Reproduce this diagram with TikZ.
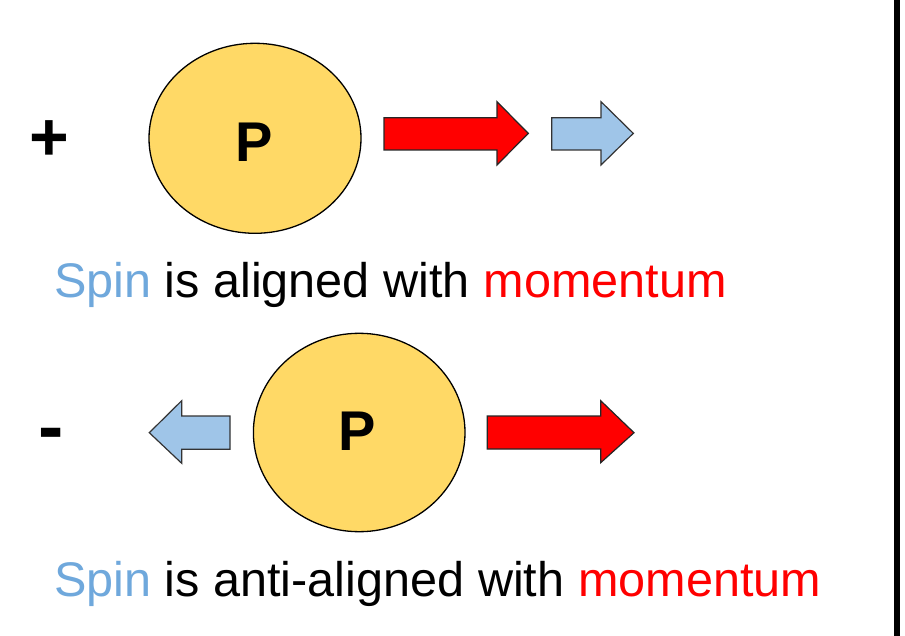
\documentclass[tikz,border=0pt]{standalone}
\usepackage{fontspec}
\setmainfont{Liberation Sans}
\usetikzlibrary{shapes.geometric}

\definecolor{spinblue}{HTML}{6FA8DC}
\definecolor{arrowblue}{HTML}{9FC5E8}
\definecolor{momred}{HTML}{FF0000}
\definecolor{protonfill}{HTML}{FFD966}

\tikzset{
  proton/.style={ellipse, draw=black, line width=1.3pt, fill=protonfill,
                 inner sep=0pt},
  ptext/.style={inner sep=0pt, font=\bfseries\fontsize{56}{60}\selectfont},
  caption/.style={inner sep=0pt, anchor=base west,
                  font=\fontsize{48.6}{58}\selectfont},
  momarrow/.style={draw=black!85, line width=1.2pt, fill=momred,
                   line join=miter},
  spinarrow/.style={draw=black!80, line width=1.2pt, fill=arrowblue,
                    line join=miter},
  signtext/.style={inner sep=0pt}
}

\begin{document}
\begin{tikzpicture}[x=1pt, y=-1pt]
  \useasboundingbox (0,0) rectangle (905,636);
  \fill[white] (0,0) rectangle (905,636);

  % right-hand border
  \fill[black] (893.5,0) rectangle (899.5,636);

  % ---- positive helicity ----
  \node[signtext, font=\bfseries\fontsize{68}{72}\selectfont] (plus) at (49,141) {+};
  \node[proton, minimum width=212pt, minimum height=190pt] (pa) at (255,138.3) {};
  \node[ptext] (pla) at (254,142) {P};

  % momentum (red) and spin (blue), both pointing right
  \draw[momarrow] (384,117.7) -- (497,117.7) -- (497,101.7) -- (528.3,133.4)
        -- (497,165) -- (497,150) -- (384,150) -- cycle;
  \draw[spinarrow] (551.7,117.7) -- (601,117.7) -- (601,101.7) -- (633.3,133.4)
        -- (601,165) -- (601,150) -- (551.7,150) -- cycle;

  \node[caption] (cap1) at (53.8,297.5)
    {\textcolor{spinblue}{Spin} is aligned with \textcolor{momred}{momentum}};

  % ---- negative helicity ----
  \node[signtext, font=\bfseries\fontsize{76}{80}\selectfont] (minus) at (51,440) {-};
  \node[proton, minimum width=211.6pt, minimum height=198.4pt] (pb) at (359.2,432.5) {};
  \node[ptext] (plb) at (357.5,431) {P};

  % spin points left, momentum points right
  \draw[spinarrow] (230,416) -- (181.7,416) -- (181.7,400.7) -- (149.3,432.7)
        -- (181.7,463.3) -- (181.7,449.3) -- (230,449.3) -- cycle;
  \draw[momarrow] (487.3,416) -- (600.7,416) -- (600.7,400.7) -- (634,432.7)
        -- (600.7,462.7) -- (600.7,449) -- (487.3,449) -- cycle;

  \node[caption] (cap2) at (53.8,596.7)
    {\textcolor{spinblue}{Spin} is anti-aligned with \textcolor{momred}{momentum}};
\end{tikzpicture}
\end{document}
